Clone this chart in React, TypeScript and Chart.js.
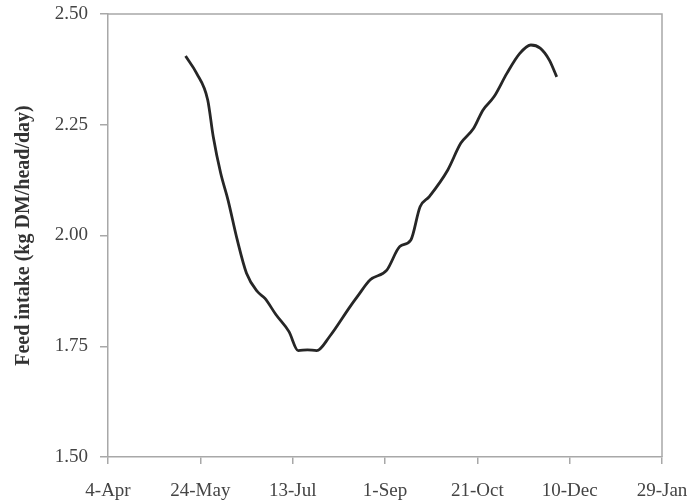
import React, { useEffect, useRef } from "react";
import { Chart, registerables } from "chart.js";

Chart.register(...registerables);

// Days since 4-Apr
const days = [42, 48, 54, 57, 61, 65, 70, 75, 81, 85, 91, 98, 103, 108, 113, 120, 131, 135, 142, 151, 158, 164, 169, 174, 184, 191, 198, 203, 209, 216, 223, 229, 234, 239, 243];
// Feed intake (kg DM/head/day)
const intake = [2.405, 2.366, 2.306, 2.223, 2.141, 2.08, 1.99, 1.915, 1.873, 1.858, 1.821, 1.783, 1.74, 1.742, 1.74, 1.772, 1.839, 1.862, 1.9, 1.922, 1.975, 1.99, 2.065, 2.088, 2.148, 2.208, 2.242, 2.283, 2.313, 2.366, 2.411, 2.43, 2.423, 2.396, 2.358];

const xTickDays = [0, 50, 100, 150, 200, 250, 300];
const xTickLabels = ["4-Apr", "24-May", "13-Jul", "1-Sep", "21-Oct", "10-Dec", "29-Jan"];
const yTitle = "Feed intake (kg DM/head/day)";

const frame = {
  id: "frame",
  afterDraw(chart: any) {
    const { ctx, chartArea } = chart;
    ctx.save();
    ctx.strokeStyle = "#a8a8a8";
    ctx.lineWidth = 1.5;
    ctx.beginPath();
    ctx.moveTo(chartArea.left, chartArea.top);
    ctx.lineTo(chartArea.right, chartArea.top);
    ctx.lineTo(chartArea.right, chartArea.bottom);
    ctx.stroke();
    ctx.restore();
  },
};

export default function App() {
  const ref = useRef<HTMLCanvasElement>(null);
  useEffect(() => {
    if (!ref.current) return;
    const font = "'Liberation Serif', 'Times New Roman', serif";
    const chart = new Chart(ref.current, {
      type: "line",
      data: {
        datasets: [
          {
            data: days.map((d, i) => ({ x: d, y: intake[i] })),
            borderColor: "#262626",
            borderWidth: 2.8,
            pointRadius: 0,
            cubicInterpolationMode: "monotone",
            fill: false,
          },
        ],
      },
      options: {
        responsive: false,
        animation: false,
        layout: { padding: { top: 14, right: 38, left: 0, bottom: 0 } },
        plugins: { legend: { display: false }, tooltip: { enabled: false } },
        scales: {
          x: {
            type: "linear",
            min: 0,
            max: 300,
            afterBuildTicks: (s: any) => {
              s.ticks = xTickDays.map((v) => ({ value: v }));
            },
            afterFit: (s: any) => {
              s.height = 46;
              s.paddingLeft = 0;
              s.paddingRight = 0;
            },
            ticks: {
              callback: (v: any) => {
                const i = xTickDays.indexOf(Number(v));
                return i >= 0 ? xTickLabels[i] : "";
              },
              font: { family: font, size: 19 },
              color: "#444",
              padding: 16,
              maxRotation: 0,
              autoSkip: false,
            },
            grid: { drawOnChartArea: false, tickLength: 7, color: "#a8a8a8", lineWidth: 1.5 },
            border: { color: "#a8a8a8", width: 1.5 },
          },
          y: {
            type: "linear",
            min: 1.5,
            max: 2.5,
            afterBuildTicks: (s: any) => {
              s.ticks = [1.5, 1.75, 2.0, 2.25, 2.5].map((v) => ({ value: v }));
            },
            afterFit: (s: any) => {
              s.width = 108;
              s.paddingTop = 0;
              s.paddingBottom = 0;
            },
            ticks: {
              callback: (v: any) => Number(v).toFixed(2),
              font: { family: font, size: 19 },
              color: "#444",
              padding: 12,
            },
            grid: { drawOnChartArea: false, tickLength: 8, color: "#a8a8a8", lineWidth: 1.5 },
            border: { color: "#a8a8a8", width: 1.5 },
            title: {
              display: true,
              text: yTitle,
              font: { family: font, size: 20, weight: "bold" },
              color: "#333",
              padding: { top: 12, bottom: 4 },
            },
          },
        },
      },
      plugins: [frame],
    } as any);
    return () => chart.destroy();
  }, []);
  return (
    <div style={{ position: "absolute", left: 0, top: 0, width: 700, height: 503, background: "#fff" }}>
      <canvas ref={ref} width={700} height={503} />
    </div>
  );
}
